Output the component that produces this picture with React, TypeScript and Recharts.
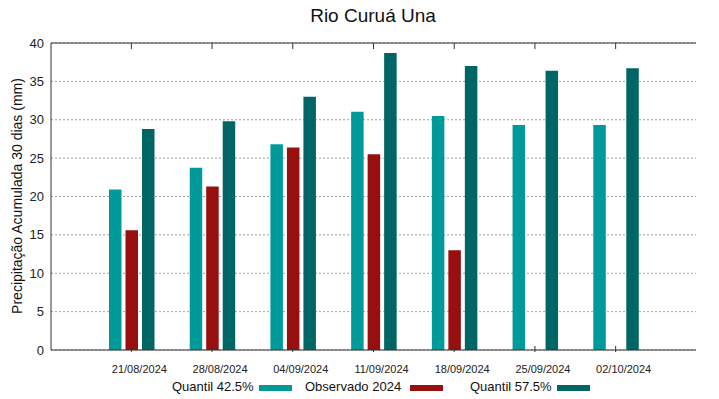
import React from 'react';
import { BarChart, Bar, XAxis, YAxis, CartesianGrid, Legend } from 'recharts';

const dates = ['21/08/2024', '28/08/2024', '04/09/2024', '11/09/2024', '18/09/2024', '25/09/2024', '02/10/2024'];
const quantil425 = [20.9, 23.75, 26.8, 31.05, 30.5, 29.3, 29.3];
const observado = [15.6, 21.3, 26.4, 25.5, 13.0, null, null];
const quantil575 = [28.8, 29.8, 33.0, 38.7, 37.0, 36.4, 36.7];
const yTicks = [0, 5, 10, 15, 20, 25, 30, 35, 40];

const data = dates.map((d, i) => ({
  date: d,
  q425: quantil425[i],
  obs: observado[i],
  q575: quantil575[i],
}));

const C_Q425 = '#009a9a';
const C_OBS = '#970f0f';
const C_Q575 = '#006565';
const FONT = '"Liberation Sans", Arial, sans-serif';

const TOP = 43;

const BottomTick = (props: any) => {
  const { x, y, payload } = props;
  return (
    <g>
      <line x1={x} y1={y} x2={x} y2={y - 6} stroke="#333" />
      <text x={x + 8} y={y + 21} textAnchor="middle" fontSize={11} fill="#222" fontFamily={FONT}>
        {payload.value}
      </text>
    </g>
  );
};

const TopTick = (props: any) => {
  const { x } = props;
  return <line x1={x} y1={TOP} x2={x} y2={TOP + 6} stroke="#333" />;
};

const RightTick = (props: any) => {
  const { x, y } = props;
  return <line x1={x} y1={y} x2={x - 6} y2={y} stroke="#333" />;
};

const legendItems = [
  { label: 'Quantil 42.5%', color: C_Q425, textLeft: 172, swatchLeft: 259 },
  { label: 'Observado 2024', color: C_OBS, textLeft: 305, swatchLeft: 410 },
  { label: 'Quantil 57.5%', color: C_Q575, textLeft: 470, swatchLeft: 557 },
];

const renderLegend = () => (
  <div style={{ position: 'relative', width: 719, height: 24, fontFamily: FONT, fontSize: 13, color: '#111' }}>
    {legendItems.map((it) => (
      <React.Fragment key={it.label}>
        <span style={{ position: 'absolute', left: it.textLeft, top: 4, whiteSpace: 'nowrap', lineHeight: '15px' }}>
          {it.label}
        </span>
        <span
          style={{
            position: 'absolute',
            left: it.swatchLeft,
            top: 10,
            width: 33,
            height: 6,
            background: it.color,
          }}
        />
      </React.Fragment>
    ))}
  </div>
);

export default function App() {
  return (
    <div style={{ position: 'absolute', left: 0, top: 0, width: 719, height: 399, background: '#fff' }}>
      <BarChart
        width={719}
        height={399}
        data={data}
        margin={{ top: TOP - 1, right: 23, left: 11, bottom: 0 }}
        barSize={12.5}
        barGap={4}
      >
        <text x={373} y={22} textAnchor="middle" fontSize={19} fill="#111" fontFamily={FONT}>
          Rio Curuá Una
        </text>
        <text
          x={22}
          y={196}
          transform="rotate(-90 22 196)"
          textAnchor="middle"
          fontSize={14}
          fill="#111"
          fontFamily={FONT}
        >
          Precipitação Acumulada 30 dias (mm)
        </text>
        <CartesianGrid
          yAxisId="l"
          xAxisId="b"
          vertical={false}
          stroke="#a0a0a0"
          strokeDasharray="2 2"
        />
        <XAxis
          xAxisId="b"
          dataKey="date"
          padding={{ left: 40, right: 40 }}
          height={25}
          tickSize={0}
          tickLine={false}
          tick={BottomTick}
          interval={0}
          axisLine={{ stroke: '#333' }}
        />
        <XAxis
          xAxisId="t"
          orientation="top"
          dataKey="date"
          padding={{ left: 40, right: 40 }}
          height={1}
          tickSize={0}
          tickLine={false}
          tick={TopTick}
          interval={0}
          axisLine={{ stroke: '#333' }}
        />
        <YAxis
          yAxisId="l"
          domain={[0, 40]}
          ticks={yTicks}
          width={40}
          tickSize={0}
          tickMargin={7}
          tickLine={false}
          axisLine={{ stroke: '#333' }}
          tick={{ fontSize: 13, fill: '#222', fontFamily: FONT }}
        />
        <YAxis
          yAxisId="r"
          orientation="right"
          domain={[0, 40]}
          ticks={yTicks}
          width={0}
          tickSize={0}
          tickLine={false}
          tick={RightTick}
          axisLine={{ stroke: '#333' }}
        />
        <Legend
          verticalAlign="bottom"
          content={renderLegend}
          wrapperStyle={{ left: 0, width: 719, height: 24, bottom: 0 }}
        />
        <Bar xAxisId="b" yAxisId="l" dataKey="q425" name="Quantil 42.5%" fill={C_Q425} isAnimationActive={false} />
        <Bar xAxisId="b" yAxisId="l" dataKey="obs" name="Observado 2024" fill={C_OBS} isAnimationActive={false} />
        <Bar xAxisId="b" yAxisId="l" dataKey="q575" name="Quantil 57.5%" fill={C_Q575} isAnimationActive={false} />
      </BarChart>
    </div>
  );
}
